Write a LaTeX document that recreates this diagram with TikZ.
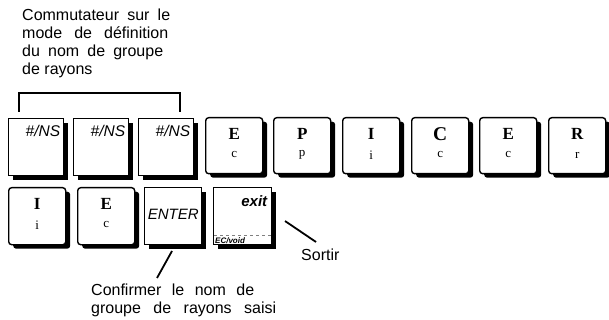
\documentclass[tikz,border=0pt]{standalone}
\usepackage{fontspec}
\setmainfont{Liberation Serif}
\newfontfamily\sansf{Liberation Sans}
\usetikzlibrary{shadows,calc}
\begin{document}
\begin{tikzpicture}[x=1pt,y=-1pt,
  keybase/.style={draw=black, line width=1.4pt, fill=white, inner sep=0pt, anchor=north west,
    drop shadow={shadow xshift=4.5pt, shadow yshift=-4pt, fill=black, opacity=1}},
  fkey/.style={keybase, minimum width=55pt, minimum height=57pt},
  lkey/.style={keybase, rounded corners=3pt, minimum width=57pt, minimum height=56pt},
  bigl/.style={font=\fontsize{17}{17}\selectfont\bfseries, inner sep=0pt},
  smalll/.style={font=\fontsize{13}{13}\selectfont, inner sep=0pt},
  nslab/.style={font=\sansf\itshape\fontsize{15.5}{15.5}\selectfont, inner sep=0pt, anchor=north east},
  labtext/.style={font=\sansf\fontsize{16}{18}\selectfont, inner sep=0pt, anchor=base west},
  conn/.style={line width=1.8pt}
]
\useasboundingbox (0,0) rectangle (609,320);

% caption top
\node[labtext] (t1) at (22,21) {\makebox[148pt][s]{Commutateur sur le}};
\node[labtext] (t2) at (22,39) {\makebox[146pt][s]{mode de définition}};
\node[labtext] (t3) at (22,57) {\makebox[141pt][s]{du nom de groupe}};
\node[labtext] (t4) at (22,75) {de rayons};

% bracket
\coordinate (b1) at (19,112);
\coordinate (b2) at (19,93);
\coordinate (b3) at (180,93);
\coordinate (b4) at (180,112);
\draw[line width=1.5pt] (b1) -- (b2) -- (b3) -- (b4);

% row 1 function keys
\foreach \i/\x in {1/8,2/73,3/138}{
  \node[fkey] (ns\i) at (\x,118) {};
  \node[nslab] (nsl\i) at ($(ns\i.north east)+(-4,7)$) {\#/NS};
}

% row 1 letter keys
\foreach \n/\x/\U/\l/\s in {a/205/E/c/17, b/273/P/p/17, c/342/I/i/17, d/411/C/c/19.5, e/479/E/c/17, f/548/R/r/17}{
  \node[lkey] (k\n) at (\x,117) {};
  \node[bigl, font=\fontsize{\s}{\s}\selectfont\bfseries] (ku\n) at ($(k\n.north)+(0,17)$) {\U};
  \node[smalll] (kl\n) at ($(k\n.north)+(0,38)$) {\l};
}

% row 2
\node[lkey, minimum height=57pt] (r1) at (8,187) {};
\node[bigl] (r1u) at ($(r1.north)+(0,17)$) {I};
\node[smalll] (r1l) at ($(r1.north)+(0,38)$) {i};
\node[lkey, minimum height=57pt] (r2) at (77,187) {};
\node[bigl] (r2u) at ($(r2.north)+(0,17)$) {E};
\node[smalll] (r2l) at ($(r2.north)+(0,38)$) {c};
\node[fkey, minimum width=57pt] (kn) at (144,187) {};
\node[font=\sansf\itshape\fontsize{15}{15}\selectfont, inner sep=0pt] (knl) at ($(kn.center)+(0,-2)$) {ENTER};
\node[fkey, minimum width=58pt] (kx) at (213,187) {};
\node[font=\sansf\bfseries\itshape\fontsize{15}{15}\selectfont, inner sep=0pt, anchor=north east] (kxl) at ($(kx.north east)+(-5,8)$) {exit};
\draw[gray, dashed, line width=0.6pt] ($(kx.south west)+(1,-10)$) -- ($(kx.south east)+(-1,-10)$);
\node[font=\sansf\bfseries\itshape\fontsize{8}{8}\selectfont, inner sep=0pt, anchor=south west] (kxv) at ($(kx.south west)+(2,-2)$) {EC/void};

% connectors
\coordinate (ea) at (172,251);
\coordinate (eb) at (157,278);
\draw[conn] (ea) -- (eb);
\coordinate (sa) at (285,221);
\coordinate (sb) at (316,242);
\draw[conn] (sa) -- (sb);

% bottom captions
\node[labtext] (c1) at (91,295) {\makebox[163pt][s]{Confirmer le nom de}};
\node[labtext] (c2) at (91,313) {\makebox[185pt][s]{groupe de rayons saisi}};
\node[labtext] (so) at (301,260) {Sortir};
\end{tikzpicture}
\end{document}
